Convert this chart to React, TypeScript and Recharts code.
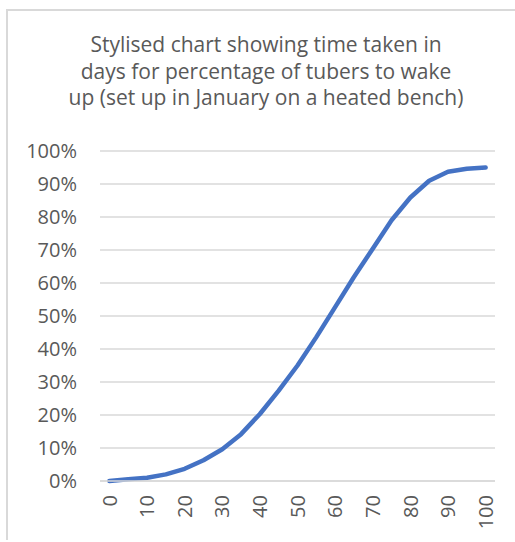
import { LineChart, Line, XAxis, YAxis, CartesianGrid } from "recharts";

const days = [0, 5, 10, 15, 20, 25, 30, 35, 40, 45, 50, 55, 60, 65, 70, 75, 80, 85, 90, 95, 100];
const wakePct = [
  0, 0.005, 0.01, 0.02, 0.037, 0.063, 0.096, 0.142, 0.203, 0.274, 0.35,
  0.436, 0.527, 0.618, 0.704, 0.79, 0.859, 0.91, 0.937, 0.946, 0.95,
];
const yTicks = [0, 0.1, 0.2, 0.3, 0.4, 0.5, 0.6, 0.7, 0.8, 0.9, 1];
const titleLines = [
  "Stylised chart showing time taken in",
  "days for percentage of tubers to wake",
  "up (set up in January on a heated bench)",
];

const data = days.map((d, i) => ({ day: d, pct: wakePct[i] }));

const FONT = "'Open Sans', sans-serif";
const TEXT = "#595959";
const GRID = "#d9d9d9";

function DayTick(props: any) {
  const { x, y, payload } = props;
  return (
    <text
      x={x}
      y={y}
      transform={`rotate(-90, ${x}, ${y})`}
      textAnchor="end"
      dy="0.36em"
      fill={TEXT}
      fontSize={20}
      fontFamily={FONT}
    >
      {payload.value}
    </text>
  );
}

export default function App() {
  return (
    <div style={{ position: "absolute", left: 0, top: 0, width: 515, height: 540 }}>
      <div
        style={{
          position: "absolute",
          left: 6,
          top: 9,
          width: 509,
          height: 531,
          boxSizing: "border-box",
          borderLeft: `2px solid ${GRID}`,
          borderTop: `2px solid ${GRID}`,
        }}
      />
      <div
        style={{
          position: "absolute",
          left: 6,
          top: 31,
          width: 520,
          textAlign: "center",
          fontFamily: FONT,
          fontSize: 21,
          lineHeight: "26.7px",
          color: TEXT,
          whiteSpace: "nowrap",
        }}
      >
        {titleLines.map((t) => (
          <div key={t}>{t}</div>
        ))}
      </div>
      <div style={{ position: "absolute", left: 0, top: 0 }}>
        <LineChart
          width={515}
          height={540}
          data={data}
          margin={{ top: 151, right: 20, left: 0, bottom: 0 }}
        >
          <CartesianGrid stroke={GRID} strokeWidth={1.5} vertical={false} />
          <XAxis
            dataKey="day"
            interval={1}
            padding={{ left: 9.4, right: 9.4 }}
            axisLine={{ stroke: GRID, strokeWidth: 1.5 }}
            tickLine={false}
            tickMargin={8}
            height={59}
            tick={<DayTick />}
          />
          <YAxis
            domain={[0, 1]}
            ticks={yTicks}
            tickFormatter={(v: number) => `${Math.round(v * 100)}%`}
            axisLine={false}
            tickLine={false}
            tickMargin={17}
            width={100}
            tick={{ fill: TEXT, fontSize: 20, fontFamily: FONT }}
          />
          <Line
            type="linear"
            dataKey="pct"
            stroke="#4472C4"
            strokeWidth={4.5}
            strokeLinecap="round"
            strokeLinejoin="round"
            dot={false}
            isAnimationActive={false}
          />
        </LineChart>
      </div>
    </div>
  );
}
